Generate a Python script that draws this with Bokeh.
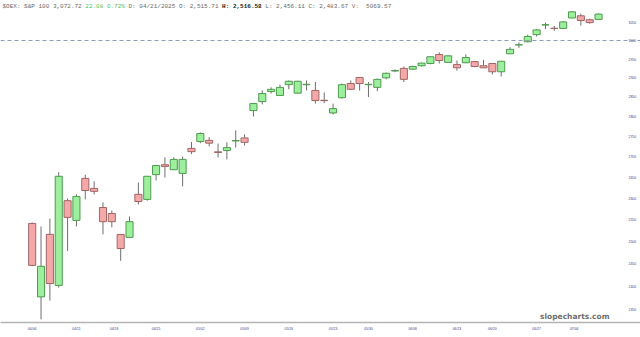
from bokeh.plotting import figure
from bokeh.models import (ColumnDataSource, Range1d, FixedTicker, CustomJSTickFormatter,
                          PrintfTickFormatter, Span, Label)
from bokeh.embed import file_html
from bokeh.resources import INLINE

# ---- data (index = trading day) ----
opens = [2541, 2377, 2516, 2402, 2594, 2548, 2647, 2623, 2578, 2564,
         2515.71, 2509, 2609, 2597, 2656, 2680, 2668, 2659, 2720, 2737,
         2740, 2711.5, 2715, 2738.5, 2746, 2815, 2838, 2864, 2854, 2882,
         2860, 2882, 2867, 2841.5, 2809, 2848, 2885, 2901, 2882, 2875,
         2900, 2918, 2925, 2923, 2932, 2938, 2962, 2941, 2935, 2940,
         2943, 2932, 2938, 2916, 2964, 2988, 2996.5, 3016, 3042.5, 3033.5,
         3033, 3062, 3068, 3057, 3058]
highs = [2543, 2534, 2552, 2662, 2599, 2609, 2656, 2640, 2590, 2571,
         2516.58, 2557, 2637, 2653, 2679, 2698, 2698, 2700, 2736, 2760,
         2748, 2732, 2735, 2765, 2755, 2834, 2867, 2875, 2882, 2893,
         2892, 2893, 2889, 2862, 2833, 2885, 2893, 2902, 2889, 2898,
         2914, 2922, 2930, 2932, 2940, 2957, 2968, 2960, 2946, 2962,
         2944, 2948, 2939, 2945, 2982, 2995, 3016, 3031, 3049, 3040,
         3053, 3081, 3074, 3060, 3075]
lows = [2444, 2329, 2369, 2397, 2478, 2534, 2597, 2609, 2516, 2532,
        2456.11, 2507, 2585, 2594, 2642, 2649, 2667, 2628, 2706, 2733,
        2725, 2698, 2693, 2722, 2727, 2800, 2831, 2859, 2853, 2870,
        2859, 2867, 2833, 2834, 2805, 2846, 2868, 2867, 2850, 2865,
        2896, 2915, 2889, 2921, 2930, 2936, 2938, 2940, 2919, 2939,
        2928, 2926, 2909, 2903.5, 2963, 2980, 2995, 3011, 3031, 3026,
        3031, 3061, 3041, 3046, 3057]
closes = [2446, 2444, 2406, 2652, 2555, 2604, 2618, 2616, 2545, 2545,
          2483.67, 2545, 2592, 2652, 2678, 2676, 2693, 2693, 2712, 2757,
          2733, 2710, 2722, 2739.6, 2735, 2833, 2859, 2870, 2875, 2891,
          2891, 2883, 2841, 2840.5, 2820, 2882, 2870, 2885, 2883, 2896,
          2912, 2919.4, 2896, 2930, 2939, 2956, 2946, 2958.5, 2926.5, 2954,
          2930, 2926.5, 2916, 2944, 2976, 2988.3, 3011, 3029, 3043.2, 3033,
          3051, 3079, 3055, 3049, 3072.72]

tick_pos = [0, 5, 9.25, 14, 19, 24, 29, 34, 38, 43, 48, 52, 57, 61.25]
tick_labels = ["04/04", "04/11", "04/18", "04/25", "05/02", "05/09", "05/16",
               "05/23", "05/30", "06/06", "06/13", "06/20", "06/27", "07/04"]
y_ticks = [2350, 2400, 2450, 2500, 2550, 2600, 2650, 2700, 2750, 2800,
           2850, 2900, 2950, 3000, 3050]
ref_level = 3000

# ---- build ----
idx = list(range(len(opens)))
up = [c >= o for o, c in zip(opens, closes)]
src = ColumnDataSource(dict(
    x=idx, high=highs, low=lows,
    top=[max(o, c) for o, c in zip(opens, closes)],
    bottom=[min(o, c) for o, c in zip(opens, closes)],
    fill=["#9cef9c" if u else "#f5a8a8" for u in up],
    line=["#4f9a4f" if u else "#a06666" for u in up],
))

p = figure(width=640, height=337, output_backend="svg", toolbar_location=None,
           y_axis_type="log", y_axis_location="right",
           x_range=Range1d(-3.58, 68.74), y_range=Range1d(2322.4, 3110.9),
           min_border_left=0, min_border_right=0, min_border_top=0, min_border_bottom=15)
p.outline_line_color = None
p.grid.visible = False
p.background_fill_color = "white"
p.border_fill_color = "white"

p.add_layout(Span(location=ref_level, dimension="width", line_color="#8d9bb8",
                  line_width=1, line_dash="4 3"))

p.segment(x0="x", y0="high", x1="x", y1="low", source=src, line_color="#6e6e6e", line_width=1)
p.vbar(x="x", width=0.8, top="top", bottom="bottom", source=src,
       fill_color="fill", line_color="line", line_width=1)

ax = p.xaxis[0]
ax.ticker = FixedTicker(ticks=tick_pos, minor_ticks=[])
ax.formatter = CustomJSTickFormatter(args=dict(pos=tick_pos, lab=tick_labels), code="""
    for (let i = 0; i < pos.length; i++) { if (Math.abs(pos[i] - tick) < 1e-6) return lab[i]; }
    return "";
""")
ax.axis_line_color = "#b4b4b4"
ax.axis_line_width = 1.5
ax.major_tick_line_color = None
ax.minor_tick_line_color = None
ax.major_tick_out = 0
ax.major_tick_in = 0
ax.major_label_standoff = 4
ax.major_label_text_font = "Liberation Sans"
ax.major_label_text_font_size = "3.4px"
ax.major_label_text_color = "#3a3a8c"

ay = p.yaxis[0]
ay.ticker = FixedTicker(ticks=y_ticks, minor_ticks=[])
ay.formatter = PrintfTickFormatter(format="%d")
ay.axis_line_color = None
ay.major_tick_line_color = None
ay.minor_tick_line_color = None
ay.major_tick_out = 0
ay.major_tick_in = 0
ay.major_label_standoff = -12
ay.major_label_text_font = "Liberation Sans"
ay.major_label_text_font_size = "3.4px"
ay.major_label_text_color = "#3a3a8c"

# header
fs = 6.0
cw = 0.6 * fs
segments = [
    (0, "$OEX: S&P 100 3,072.72", "#6a6a6a", "normal"),
    (23, "22.08 0.72%", "#55c055", "normal"),
    (35, "D: 04/21/2025 O: 2,515.71", "#6a6a6a", "normal"),
    (61, "H: 2,516.58", "#222222", "bold"),
    (73, "L: 2,456.11 C: 2,483.67 V:\u00a0\u00a05069.57", "#6a6a6a", "normal"),
]
for ci, txt, col, style in segments:
    p.add_layout(Label(x=2 + ci * cw, y=316.5, x_units="screen", y_units="screen", text=txt,
                       text_font="Liberation Mono", text_font_size=f"{fs}px",
                       text_color=col, text_font_style=style, text_baseline="middle"))

p.add_layout(Label(x=609, y=6, x_units="screen", y_units="screen", text="slopecharts.com",
                   text_font="DejaVu Sans", text_font_size="7.5px", text_font_style="bold",
                   text_color="#6e6e6e", text_align="right", text_baseline="middle"))

open("out.html", "w").write(file_html(p, INLINE))
